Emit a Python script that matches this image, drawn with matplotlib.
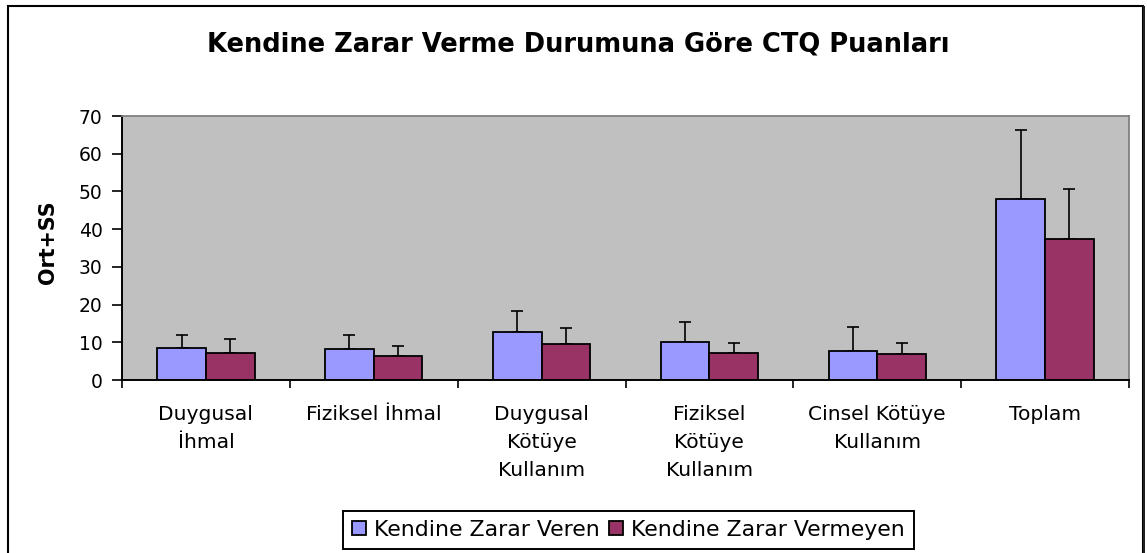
import matplotlib
matplotlib.use("Agg")
import matplotlib.pyplot as plt
import numpy as np
from matplotlib.patches import Rectangle

plt.rcParams['font.family'] = ['DejaVu Sans']

categories = ["Duygusal\nİhmal", "Fiziksel İhmal", "Duygusal\nKötüye\nKullanım",
              "Fiziksel\nKötüye\nKullanım", "Cinsel Kötüye\nKullanım", "Toplam"]
veren_mean = [8.5, 8.1, 12.7, 10.0, 7.7, 48.1]
veren_sd = [3.3, 3.7, 5.6, 5.4, 6.4, 18.2]
vermeyen_mean = [7.2, 6.4, 9.5, 7.2, 6.8, 37.5]
vermeyen_sd = [3.7, 2.7, 4.2, 2.7, 3.1, 13.2]
series_names = ["Kendine Zarar Veren", "Kendine Zarar Vermeyen"]
yticks = [0, 10, 20, 30, 40, 50, 60, 70]

W, H = 1147, 553
fig = plt.figure(figsize=(W / 100, H / 100), dpi=100)
fig.patch.set_facecolor('white')

# outer chart border (bottom cut off)
fig.add_artist(Rectangle((8.3 / W, -0.05), (1143 - 8.3) / W, 1.05 - 6 / H,
                         transform=fig.transFigure, fill=False,
                         edgecolor='black', linewidth=1.5))
fig.add_artist(Rectangle((1143 / W, -0.05), 2.0 / W, 1.05 - 6 / H,
                         transform=fig.transFigure, fill=True,
                         facecolor='#202020', edgecolor='none'))

left, right = 122 / W, 1129 / W
bottom, top = 1 - 380 / H, 1 - 116 / H
ax = fig.add_axes([left, bottom, right - left, top - bottom])
ax.set_facecolor('#C0C0C0')

x = np.arange(len(categories))
bw = 0.29
c1, c2 = '#9999FF', '#993366'
ax.bar(x - bw / 2, veren_mean, bw, color=c1, edgecolor='black', linewidth=1.3,
       label=series_names[0], zorder=2)
ax.bar(x + bw / 2, vermeyen_mean, bw, color=c2, edgecolor='black', linewidth=1.3,
       label=series_names[1], zorder=2)
ax.errorbar(x - bw / 2, veren_mean, yerr=[np.zeros(len(x)), veren_sd], fmt='none',
            ecolor='black', elinewidth=1.2, capsize=4.6, capthick=1.2, zorder=1)
ax.errorbar(x + bw / 2, vermeyen_mean, yerr=[np.zeros(len(x)), vermeyen_sd], fmt='none',
            ecolor='black', elinewidth=1.2, capsize=4.6, capthick=1.2, zorder=1)

ax.set_xlim(-0.5, len(categories) - 0.5)
ax.set_ylim(0, 70)
ax.set_yticks(yticks)
ax.tick_params(axis='y', direction='out', length=7, width=1.2, labelsize=13.5, pad=7)
ax.set_xticks(x)
ax.set_xticklabels(categories, fontsize=14.6, linespacing=1.6)
ax.tick_params(axis='x', which='major', length=0, pad=18)
ax.set_xticks(np.arange(len(categories) + 1) - 0.5, minor=True)
ax.tick_params(axis='x', which='minor', direction='out', length=6, width=1.2)

for s in ['top', 'right']:
    ax.spines[s].set_color('#808080')
    ax.spines[s].set_linewidth(1.3)
for s in ['left', 'bottom']:
    ax.spines[s].set_color('black')
    ax.spines[s].set_linewidth(1.4)

ax.set_ylabel("Ort+SS", fontsize=14.9, fontweight='bold')
ax.yaxis.set_label_coords((48 - 122) / (1129 - 122), (380 - 242) / 264)
ax.yaxis.label.set_va('center')

fig.text(578 / W, 1 - 51.7 / H, "Kendine Zarar Verme Durumuna Göre CTQ Puanları",
         ha='center', va='baseline', fontsize=18.5, fontweight='bold')

leg = fig.legend(loc='upper left', bbox_to_anchor=(343 / W, 1 - 511 / H), ncol=2,
                 borderaxespad=0, fancybox=False, edgecolor='black', fontsize=15.8,
                 handlelength=0.64, handleheight=0.55, handletextpad=0.36,
                 columnspacing=0.45, borderpad=0.4, framealpha=1)
leg.get_frame().set_linewidth(1.4)
for h in leg.legend_handles:
    h.set_edgecolor('black')
    h.set_linewidth(1.3)

fig.savefig("out.png", dpi=100)
